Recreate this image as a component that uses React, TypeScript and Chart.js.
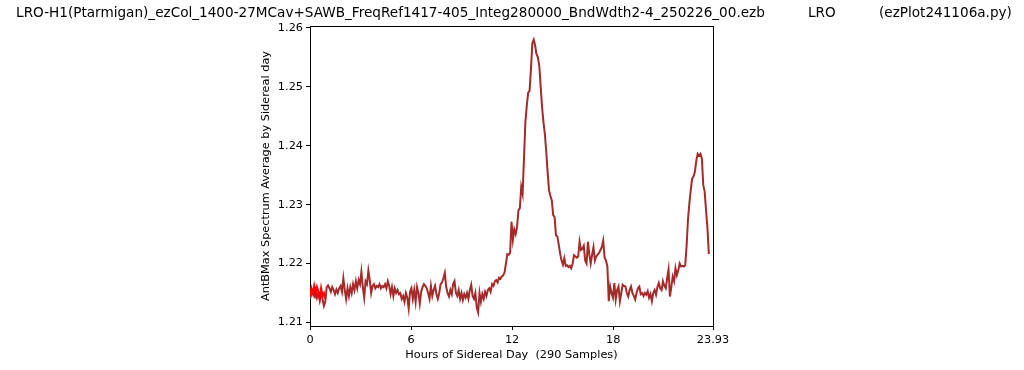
import React, { useEffect, useRef } from "react";
import { Chart, registerables } from "chart.js";

Chart.register(...registerables);

const TITLE =
  "LRO-H1(Ptarmigan)_ezCol_1400-27MCav+SAWB_FreqRef1417-405_Integ280000_BndWdth2-4_250226_00.ezb          LRO          (ezPlot241106a.py)";
const X_LABEL = "Hours of Sidereal Day  (290 Samples)";
const Y_LABEL = "AntBMax Spectrum Average by Sidereal day";

const HOURS_PER_SAMPLE = 23.93 / 290;
const X_TICKS = [0, 6, 12, 18, 23.93];
const Y_TICKS = [1.21, 1.22, 1.23, 1.24, 1.25, 1.26];

const avgValues = [
  1.2140, 1.2148, 1.2152, 1.2145, 1.2155, 1.2142, 1.2150, 1.2138, 1.2152, 1.2140, 1.2128, 1.2135,
  1.2160, 1.2163, 1.2158, 1.2152, 1.2160, 1.2155, 1.2148, 1.2156, 1.2150, 1.2158, 1.2162, 1.2152,
  1.2175, 1.2155, 1.2140, 1.2158, 1.2145, 1.2160, 1.2150, 1.2165, 1.2155, 1.2170, 1.2158, 1.2172,
  1.2165, 1.2186, 1.2160, 1.2142, 1.2170, 1.2165, 1.2188, 1.2172, 1.2150, 1.2162, 1.2165, 1.2158,
  1.2162, 1.2160, 1.2165, 1.2158, 1.2162, 1.2160, 1.2165, 1.2158, 1.2170, 1.2162, 1.2148, 1.2160,
  1.2145, 1.2158, 1.2150, 1.2155, 1.2148, 1.2150, 1.2140, 1.2145, 1.2135, 1.2150, 1.2142, 1.2124,
  1.2152, 1.2158, 1.2140, 1.2155, 1.2135, 1.2160, 1.2150, 1.2132, 1.2152, 1.2160, 1.2165, 1.2162,
  1.2158, 1.2150, 1.2140, 1.2162, 1.2145, 1.2155, 1.2162, 1.2148, 1.2140, 1.2150, 1.2165, 1.2168,
  1.2175, 1.2184, 1.2160, 1.2150, 1.2144, 1.2155, 1.2148, 1.2165, 1.2170, 1.2150, 1.2145, 1.2155,
  1.2140, 1.2150, 1.2138, 1.2148, 1.2142, 1.2150, 1.2140, 1.2155, 1.2164, 1.2145, 1.2140, 1.2150,
  1.2125, 1.2117, 1.2150, 1.2135, 1.2148, 1.2140, 1.2152, 1.2145, 1.2155, 1.2158, 1.2152, 1.2165,
  1.2162, 1.2170, 1.2172, 1.2168, 1.2176, 1.2174, 1.2178, 1.2180,
  1.2185, 1.2200, 1.2216, 1.2215, 1.2218, 1.2271, 1.2240, 1.2258, 1.2250, 1.2262, 1.2290, 1.2294,
  1.2330, 1.2318, 1.2380, 1.2440, 1.2468, 1.2490, 1.2493, 1.2530, 1.2574, 1.2580, 1.2570, 1.2555,
  1.2550, 1.2535, 1.2500, 1.2465, 1.2440, 1.2420, 1.2390, 1.2355, 1.2324, 1.2315, 1.2307, 1.2282,
  1.2279, 1.2248, 1.2246, 1.2232, 1.2217, 1.2205, 1.2198, 1.2209, 1.2196, 1.2197, 1.2194, 1.2196,
  1.2192, 1.2200, 1.2214, 1.2212, 1.2210, 1.2212, 1.2237, 1.2223, 1.2225, 1.2230, 1.2205, 1.2200,
  1.2237, 1.2215, 1.2200, 1.2215, 1.2228, 1.2205, 1.2212, 1.2215, 1.2218, 1.2223, 1.2228, 1.2239,
  1.2210, 1.2205, 1.2195, 1.2136, 1.2161, 1.2150, 1.2142, 1.2167, 1.2139, 1.2155, 1.2161, 1.2136,
  1.2150, 1.2164, 1.2162, 1.2161, 1.2150, 1.2144, 1.2155, 1.2161, 1.2150, 1.2145, 1.2139, 1.2150,
  1.2158, 1.2161, 1.2148, 1.2150, 1.2145, 1.2150, 1.2147, 1.2153, 1.2142, 1.2148, 1.2136, 1.2150,
  1.2155, 1.2147, 1.2160, 1.2167, 1.2158, 1.2155, 1.2170, 1.2162, 1.2158, 1.2175, 1.2190, 1.2144,
  1.2160, 1.2178, 1.2170, 1.2192, 1.2180, 1.2188, 1.2200, 1.2195, 1.2196, 1.2195, 1.2197, 1.2230,
  1.2275, 1.2302, 1.2325, 1.2344, 1.2348, 1.2356, 1.2375, 1.2386, 1.2383, 1.2386, 1.2378, 1.2333,
  1.2322, 1.2290, 1.2260, 1.2216,
];

const firstHourValues = [
  1.2145, 1.2158, 1.2150, 1.2162, 1.2148, 1.2160, 1.2152, 1.2140, 1.2158, 1.2145, 1.2150, 1.2140,
];

const FONT = "'DejaVu Sans', sans-serif";
const FONT_SIZE = 11.3;

const titlePlugin = {
  id: "figTitle",
  afterDraw(chart: any) {
    const { ctx, width } = chart;
    ctx.save();
    ctx.font = `13.6px ${FONT}`;
    ctx.fillStyle = "#000";
    ctx.textAlign = "center";
    ctx.textBaseline = "middle";
    ctx.fillText(TITLE, width / 2 + 2, 13);
    ctx.restore();
  },
};

export default function App() {
  const ref = useRef<HTMLCanvasElement | null>(null);

  useEffect(() => {
    if (!ref.current) return;
    const toPts = (arr: number[]) => arr.map((v, i) => ({ x: i * HOURS_PER_SAMPLE, y: v }));
    const chart = new Chart(ref.current, {
      type: "line",
      data: {
        datasets: [
          {
            data: toPts(firstHourValues),
            borderColor: "#ff0000",
            borderWidth: 2,
            pointRadius: 0,
            tension: 0,
          },
          {
            data: toPts(avgValues),
            borderColor: "#a52a2a",
            borderWidth: 2,
            pointRadius: 0,
            tension: 0,
          },
        ],
      },
      options: {
        responsive: false,
        animation: false,
        layout: { padding: { top: 26, right: 311, bottom: 4, left: 255 } },
        plugins: {
          legend: { display: false },
          tooltip: { enabled: false },
        },
        scales: {
          x: {
            type: "linear",
            min: 0,
            max: 23.93,
            afterFit: (s: any) => {
              s.height = 40;
            },
            afterBuildTicks: (s: any) => {
              s.ticks = X_TICKS.map((v) => ({ value: v }));
            },
            ticks: {
              color: "#000",
              font: { family: FONT, size: FONT_SIZE },
              padding: 3,
              maxRotation: 0,
              callback: (v: any) => String(v),
            },
            grid: {
              drawOnChartArea: false,
              drawTicks: true,
              tickLength: 4,
              color: "#000",
            },
            border: { display: true, color: "#000", width: 1 },
            title: {
              display: true,
              text: X_LABEL,
              color: "#000",
              font: { family: FONT, size: FONT_SIZE },
              padding: 4,
            },
          },
          y: {
            type: "linear",
            min: 1.2094,
            max: 1.2603,
            afterFit: (s: any) => {
              s.width = 55;
            },
            afterBuildTicks: (s: any) => {
              s.ticks = Y_TICKS.map((v) => ({ value: v }));
            },
            ticks: {
              color: "#000",
              font: { family: FONT, size: FONT_SIZE },
              padding: 3,
              callback: (v: any) => Number(v).toFixed(2),
            },
            grid: {
              drawOnChartArea: false,
              drawTicks: true,
              tickLength: 4,
              color: "#000",
            },
            border: { display: true, color: "#000", width: 1 },
            title: {
              display: true,
              text: Y_LABEL,
              color: "#000",
              font: { family: FONT, size: FONT_SIZE },
              padding: 4,
            },
          },
          x2: {
            type: "linear",
            position: "top",
            display: true,
            min: 0,
            max: 23.93,
            afterFit: (s: any) => {
              s.height = 0;
            },
            ticks: { display: false },
            grid: { display: false, drawTicks: false },
            border: { display: true, color: "#000", width: 1 },
          },
          y2: {
            type: "linear",
            position: "right",
            display: true,
            min: 0,
            max: 1,
            afterFit: (s: any) => {
              s.width = 0;
            },
            ticks: { display: false },
            grid: { display: false, drawTicks: false },
            border: { display: true, color: "#000", width: 1 },
          },
        },
      },
      plugins: [titlePlugin],
    });
    return () => chart.destroy();
  }, []);

  return (
    <div style={{ position: "absolute", left: 0, top: 0, width: 1024, height: 370, background: "#fff" }}>
      <canvas ref={ref} width={1024} height={370} />
    </div>
  );
}
